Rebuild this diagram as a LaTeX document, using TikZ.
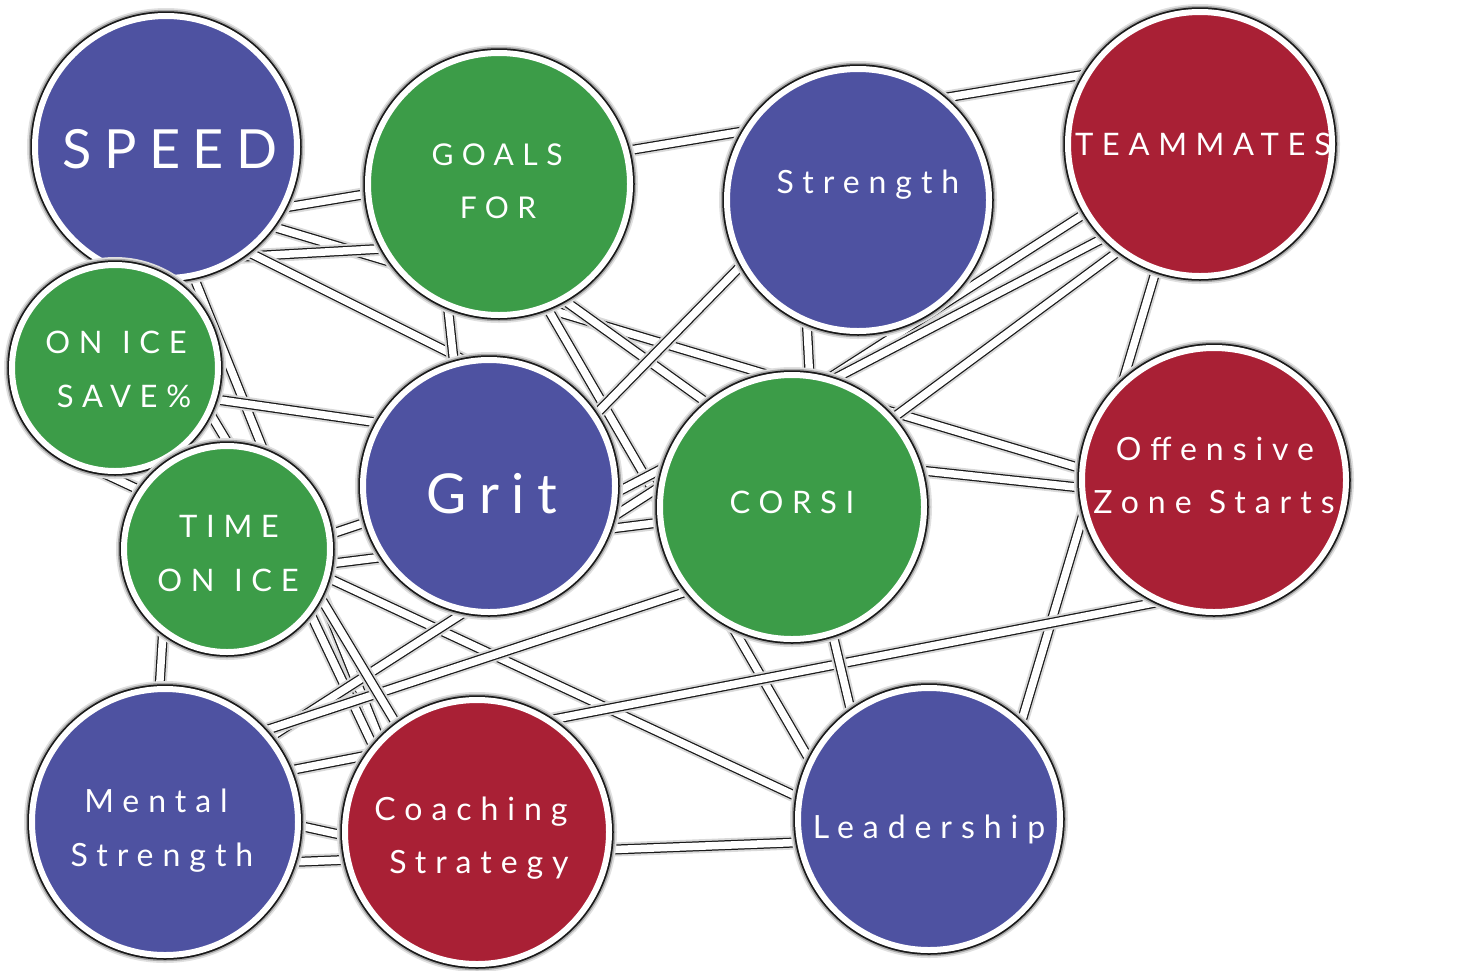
\documentclass[tikz,border=0pt]{standalone}
\usepackage{fontspec}
\setmainfont{Lato}
\newfontfamily\labfont[LetterSpace=28]{Lato}
\newfontfamily\biglabfont[LetterSpace=23]{Lato}
\usetikzlibrary{calc}
\pgfdeclarelayer{edges}
\pgfsetlayers{edges,main}
\definecolor{cblue}{HTML}{4E52A1}
\definecolor{cgreen}{HTML}{3C9C48}
\definecolor{cred}{HTML}{A92035}
\newcommand{\widegap}{\ \kern3pt\relax}
\tikzset{
  bubble/.style={circle, inner sep=0pt, fill=#1, draw=white, line width=6pt,
    preaction={draw=black!12, line width=16pt},
    preaction={draw=black!35, line width=12.5pt},
    preaction={draw=black!90, line width=9.5pt}},
  edge/.style={draw=white, line width=7.5pt,
    preaction={draw=black!15, line width=14pt},
    preaction={draw=black!90, line width=10pt}},
  lab/.style={text=white, inner sep=0pt, anchor=base, font=\labfont\fontsize{#1}{#1}\selectfont},
  lab/.default=32,
  biglab/.style={text=white, inner sep=0pt, anchor=base, font=\biglabfont\fontsize{#1}{#1}\selectfont}
}
\begin{document}
\begin{tikzpicture}[x=1pt,y=-1pt]
\useasboundingbox (0,0) rectangle (1458,970);
% nodes
\node[bubble=cblue,  minimum size=262pt] (speed)    at (166,147) {};
\node[bubble=cgreen, minimum size=262pt] (goals)    at (499,184) {};
\node[bubble=cblue,  minimum size=262pt] (strength) at (858,200) {};
\node[bubble=cred,   minimum size=264pt] (team)     at (1200,144) {};
\node[bubble=cgreen, minimum size=206pt] (onice)    at (115,368) {};
\node[bubble=cgreen, minimum size=206pt] (toi)      at (227,549) {};
\node[bubble=cblue,  minimum size=252pt] (grit)     at (489,486) {};
\node[bubble=cgreen, minimum size=264pt] (corsi)    at (792,507) {};
\node[bubble=cred,   minimum size=264pt] (ozs)      at (1214,480) {};
\node[bubble=cblue,  minimum size=266pt] (mental)   at (165,822) {};
\node[bubble=cred,   minimum size=264pt] (coach)    at (477,832) {};
\node[bubble=cblue,  minimum size=262pt] (lead)     at (929,819) {};
% labels
\node[biglab=54] (tspeed) at ($(speed)+(4,21)$) {SPEED};
\node[lab=30] (tgoals1) at ($(goals)+(-2,-19)$) {GOALS};
\node[lab=30] (tgoals2) at ($(goals)+(-1,34)$) {FOR};
\node[lab] (tstrength) at ($(strength)+(10,-7)$) {Strength};
\node[lab=31] (tteam) at ($(team)+(3,11)$) {TEAMMATES};
\node[lab=31] (tonice1) at ($(onice)+(1,-15)$) {ON\widegap ICE};
\node[lab=31] (tonice2) at ($(onice)+(9,39)$) {SAVE\%};
\node[lab=31] (ttoi1) at ($(toi)+(2,-12)$) {TIME};
\node[lab=31] (ttoi2) at ($(toi)+(1,42)$) {ON\widegap ICE};
\node[biglab=55] (tgrit) at ($(grit)+(3,27)$) {Grit};
\node[lab=31] (tcorsi) at ($(corsi)+(0,6)$) {CORSI};
\node[lab] (tozs1) at ($(ozs)+(1,-20)$) {Offensive};
\node[lab] (tozs2) at ($(ozs)+(0,33)$) {Zone Starts};
\node[lab] (tmental1) at ($(mental)+(-9,-10)$) {Mental};
\node[lab] (tmental2) at ($(mental)+(-3,44)$) {Strength};
\node[lab] (tcoach1) at ($(coach)+(-6,-12)$) {Coaching};
\node[lab] (tcoach2) at ($(coach)+(2,41)$) {Strategy};
\node[lab] (tlead) at ($(lead)+(0,19)$) {Leadership};
% edges
\begin{pgfonlayer}{edges}
\draw[edge] ($(speed)+(74,68)$) -- ($(team)+(-70,-77)$);
\draw[edge] ($(speed)+(64,67)$) -- ($(ozs)+(-74,6)$);
\draw[edge] ($(speed)+(34,112)$) -- ($(goals)+(-49,61)$);
\draw[edge] ($(speed)+(54,91)$) -- ($(grit)+(31,-98)$);
\draw[edge] ($(goals)+(-54,96)$) -- ($(grit)+(-31,-86)$);
\draw[edge] ($(speed)+(19,108)$) -- ($(coach)+(-77,-42)$);
\draw[edge] ($(onice)+(35,22)$) -- ($(grit)+(-39,-53)$);
\draw[edge] ($(onice)+(-27,98)$) -- ($(lead)+(-69,7)$);
\draw[edge] ($(toi)+(53,2)$) -- ($(grit)+(-59,15)$);
\draw[edge] ($(toi)+(53,21)$) -- ($(corsi)+(-72,8)$);
\draw[edge] ($(toi)+(58,11)$) -- ($(coach)+(-83,-42)$);
\draw[edge] ($(goals)+(21,77)$) -- ($(lead)+(-99,-24)$);
\draw[edge] ($(goals)+(41,99)$) -- ($(corsi)+(-32,-66)$);
\draw[edge] ($(strength)+(-53,90)$) -- ($(corsi)+(20,-87)$);
\draw[edge] ($(strength)+(-88,36)$) -- ($(grit)+(71,-35)$);
\draw[edge] ($(corsi)+(78,-42)$) -- ($(ozs)+(-74,14)$);
\draw[edge] ($(team)+(-35,96)$) -- ($(lead)+(81,-59)$);
\draw[edge] ($(mental)+(65,-40)$) -- ($(ozs)+(-14,114)$);
\draw[edge] ($(mental)+(75,42)$) -- ($(lead)+(-69,21)$);
\draw[edge] ($(mental)+(85,-7)$) -- ($(coach)+(-57,20)$);
\draw[edge] ($(toi)+(-62,51)$) -- ($(mental)+(-10,-62)$);
\draw[edge] ($(mental)+(65,-59)$) -- ($(team)+(-80,47)$);
\draw[edge] ($(mental)+(65,-80)$) -- ($(corsi)+(-52,67)$);
\draw[edge] ($(team)+(-60,75)$) -- ($(grit)+(71,36)$);
\draw[edge] ($(team)+(-50,84)$) -- ($(corsi)+(48,-50)$);
\draw[edge] ($(corsi)+(23,53)$) -- ($(lead)+(-64,-49)$);
\draw[edge] ($(onice)+(75,12)$) -- ($(coach)+(-53,-62)$);
\end{pgfonlayer}
\end{tikzpicture}
\end{document}
